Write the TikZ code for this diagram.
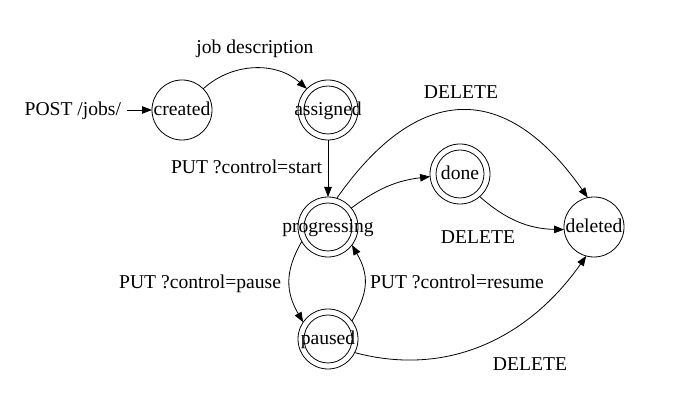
\documentclass[tikz,border=0pt]{standalone}
\usepackage{fontspec}
\setmainfont{Liberation Serif}
\usetikzlibrary{arrows.meta}
\begin{document}
\begin{tikzpicture}[x=1pt,y=1pt, line width=0.8pt,
  every node/.style={font=\fontsize{19.6}{23}\selectfont, inner sep=0pt, outer sep=0pt, text height=14pt, text depth=3pt},
  state/.style={circle, draw, minimum size=60pt},
  edge/.style={-{Triangle[length=10pt,width=7.5pt]}}]
\useasboundingbox (0,0) rectangle (677,411);
% states
\node[state] (created) at (182,301) {\makebox[0pt]{created}};
\node[state] (assigned) at (328,301) {\makebox[0pt]{assigned}};
\node[state] (progressing) at (328,184) {\makebox[0pt]{progressing}};
\node[state] (done) at (460,237) {\makebox[0pt]{done}};
\node[state] (deleted) at (594,184) {\makebox[0pt]{deleted}};
\node[state] (paused) at (328,72) {\makebox[0pt]{paused}};
\foreach \n in {assigned,progressing,done,paused} \draw (\n.center) circle (24);
% initial
\coordinate (start) at (127,301);
\node[anchor=east] (lpost) at (121,301) {POST /jobs/};
\draw[edge] (start) -- (created);
% edges
\draw[edge] (created.45) to[bend left=42] (assigned.135);
\node (ljob) at (255,363) {job description};
\draw[edge] (assigned) -- (progressing);
\node[anchor=east] (lstart) at (322,243) {PUT ?control=start};
\draw[edge] (progressing.73) to[out=55,in=125,looseness=1.45] (deleted.102);
\node (ldel1) at (461,318) {DELETE};
\draw[edge] (progressing.39) to[bend left=15] (done.185);
\draw[edge] (done.311) to[bend right=20] (deleted.185);
\node (ldel2) at (478,173) {DELETE};
\draw[edge] (progressing.209) to[out=240,in=120,looseness=1.1] (paused.146);
\node[anchor=east] (lpause) at (281,128) {PUT ?control=pause};
\draw[edge] (paused.37) to[out=60,in=300,looseness=1.15] (progressing.323);
\node[anchor=west] (lresume) at (370,128) {PUT ?control=resume};
\draw[edge] (paused.333) to[out=-15,in=235] (deleted.255);
\node (ldel3) at (530,46) {DELETE};
\end{tikzpicture}
\end{document}
